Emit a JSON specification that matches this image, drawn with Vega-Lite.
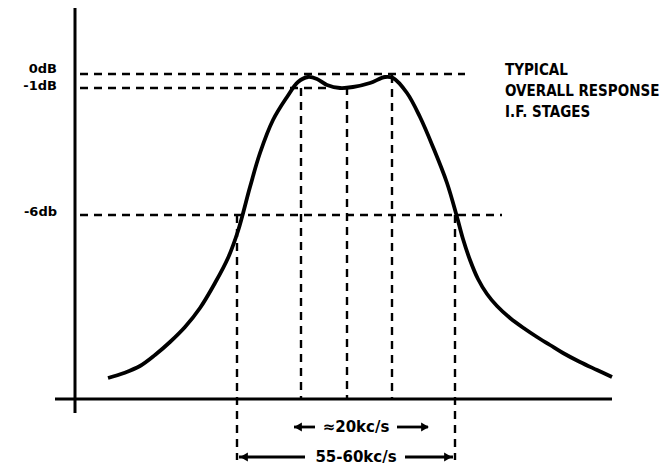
{
  "$schema": "https://vega.github.io/schema/vega-lite/v6.json",
  "width": 667,
  "height": 468,
  "autosize": {"type": "fit", "contains": "padding"},
  "padding": 0,
  "background": "white",
  "config": {"view": {"stroke": null}},
  "datasets": {
    "curve": [
      {"x": 108, "y": 21}, {"x": 124, "y": 26}, {"x": 140, "y": 33}, {"x": 155, "y": 44},
      {"x": 170, "y": 57}, {"x": 185, "y": 72}, {"x": 200, "y": 91}, {"x": 215, "y": 116},
      {"x": 228, "y": 141}, {"x": 238, "y": 168}, {"x": 250, "y": 212}, {"x": 260, "y": 246},
      {"x": 273, "y": 279}, {"x": 287, "y": 302}, {"x": 298, "y": 317}, {"x": 308, "y": 322},
      {"x": 317, "y": 320}, {"x": 327, "y": 314}, {"x": 340, "y": 311}, {"x": 353, "y": 312},
      {"x": 370, "y": 316}, {"x": 385, "y": 322}, {"x": 393, "y": 321}, {"x": 407, "y": 306},
      {"x": 420, "y": 282}, {"x": 433, "y": 252}, {"x": 447, "y": 216}, {"x": 457, "y": 182},
      {"x": 463, "y": 160}, {"x": 470, "y": 139}, {"x": 478, "y": 120}, {"x": 487, "y": 105},
      {"x": 497, "y": 93}, {"x": 510, "y": 81}, {"x": 525, "y": 70}, {"x": 537, "y": 62},
      {"x": 550, "y": 54}, {"x": 563, "y": 46}, {"x": 580, "y": 37}, {"x": 597, "y": 29},
      {"x": 612, "y": 22}
    ],
    "axisLines": [
      {"x": 75, "y": 391, "x2": 75, "y2": -14},
      {"x": 55, "y": 0, "x2": 612, "y2": 0}
    ],
    "guideLines": [
      {"x": 80, "y": 325, "x2": 465, "y2": 325},
      {"x": 80, "y": 311, "x2": 330, "y2": 311},
      {"x": 80, "y": 184, "x2": 502, "y2": 184},
      {"x": 237, "y": 184, "x2": 237, "y2": -61},
      {"x": 301, "y": 311, "x2": 301, "y2": 0},
      {"x": 347, "y": 312, "x2": 347, "y2": 0},
      {"x": 392, "y": 324, "x2": 392, "y2": 0},
      {"x": 455, "y": 184, "x2": 455, "y2": -61}
    ],
    "arrowLines": [
      {"x": 294, "y": -28, "x2": 315, "y2": -28},
      {"x": 397, "y": -28, "x2": 428, "y2": -28},
      {"x": 239, "y": -58, "x2": 305, "y2": -58},
      {"x": 405, "y": -58, "x2": 453, "y2": -58}
    ],
    "arrowHeads": [
      {"x": 298, "y": -28, "dir": "left"},
      {"x": 425, "y": -28, "dir": "right"},
      {"x": 244, "y": -58, "dir": "left"},
      {"x": 448, "y": -58, "dir": "right"}
    ],
    "dbLabels": [
      {"x": 57, "y": 330, "label": "0dB"},
      {"x": 57, "y": 313, "label": "-1dB"},
      {"x": 57, "y": 187, "label": "-6db"}
    ],
    "titleLines": [
      {"x": 505, "y": 329, "label": "TYPICAL"},
      {"x": 505, "y": 308, "label": "OVERALL RESPONSE"},
      {"x": 505, "y": 287, "label": "I.F. STAGES"}
    ],
    "spanLabels": [
      {"x": 356, "y": -28, "label": "≈20kc/s"},
      {"x": 356, "y": -58, "label": "55-60kc/s"}
    ]
  },
  "layer": [
    {
      "data": {"name": "axisLines"},
      "mark": {"type": "rule", "color": "black", "strokeWidth": 3},
      "encoding": {
        "x": {"field": "x", "type": "quantitative", "scale": {"domain": [0, 667], "nice": false, "zero": false}, "axis": null},
        "y": {"field": "y", "type": "quantitative", "scale": {"domain": [-69, 399], "nice": false, "zero": false}, "axis": null},
        "x2": {"field": "x2"},
        "y2": {"field": "y2"}
      }
    },
    {
      "data": {"name": "guideLines"},
      "mark": {"type": "rule", "color": "black", "strokeWidth": 2.4, "strokeDash": [8, 6]},
      "encoding": {
        "x": {"field": "x", "type": "quantitative"},
        "y": {"field": "y", "type": "quantitative"},
        "x2": {"field": "x2"},
        "y2": {"field": "y2"}
      }
    },
    {
      "data": {"name": "curve"},
      "mark": {"type": "line", "color": "black", "strokeWidth": 3.8, "interpolate": "catmull-rom"},
      "encoding": {
        "x": {"field": "x", "type": "quantitative"},
        "y": {"field": "y", "type": "quantitative"}
      }
    },
    {
      "data": {"name": "arrowLines"},
      "mark": {"type": "rule", "color": "black", "strokeWidth": 2.8},
      "encoding": {
        "x": {"field": "x", "type": "quantitative"},
        "y": {"field": "y", "type": "quantitative"},
        "x2": {"field": "x2"},
        "y2": {"field": "y2"}
      }
    },
    {
      "data": {"name": "arrowHeads"},
      "mark": {"type": "point", "filled": true, "color": "black", "size": 80, "opacity": 1},
      "encoding": {
        "x": {"field": "x", "type": "quantitative"},
        "y": {"field": "y", "type": "quantitative"},
        "shape": {"field": "dir", "type": "nominal", "scale": {"domain": ["left", "right"], "range": ["triangle-left", "triangle-right"]}, "legend": null}
      }
    },
    {
      "data": {"name": "dbLabels"},
      "mark": {"type": "text", "align": "right", "baseline": "middle", "font": "DejaVu Sans", "fontWeight": "bold", "fontSize": 13, "color": "black"},
      "encoding": {
        "x": {"field": "x", "type": "quantitative"},
        "y": {"field": "y", "type": "quantitative"},
        "text": {"field": "label"}
      }
    },
    {
      "data": {"name": "titleLines"},
      "mark": {"type": "text", "align": "left", "baseline": "middle", "font": "DejaVu Sans Condensed", "fontWeight": "bold", "fontSize": 15, "color": "black"},
      "encoding": {
        "x": {"field": "x", "type": "quantitative"},
        "y": {"field": "y", "type": "quantitative"},
        "text": {"field": "label"}
      }
    },
    {
      "data": {"name": "spanLabels"},
      "mark": {"type": "text", "align": "center", "baseline": "middle", "font": "DejaVu Sans", "fontWeight": "bold", "fontSize": 15, "color": "black"},
      "encoding": {
        "x": {"field": "x", "type": "quantitative"},
        "y": {"field": "y", "type": "quantitative"},
        "text": {"field": "label"}
      }
    }
  ]
}
